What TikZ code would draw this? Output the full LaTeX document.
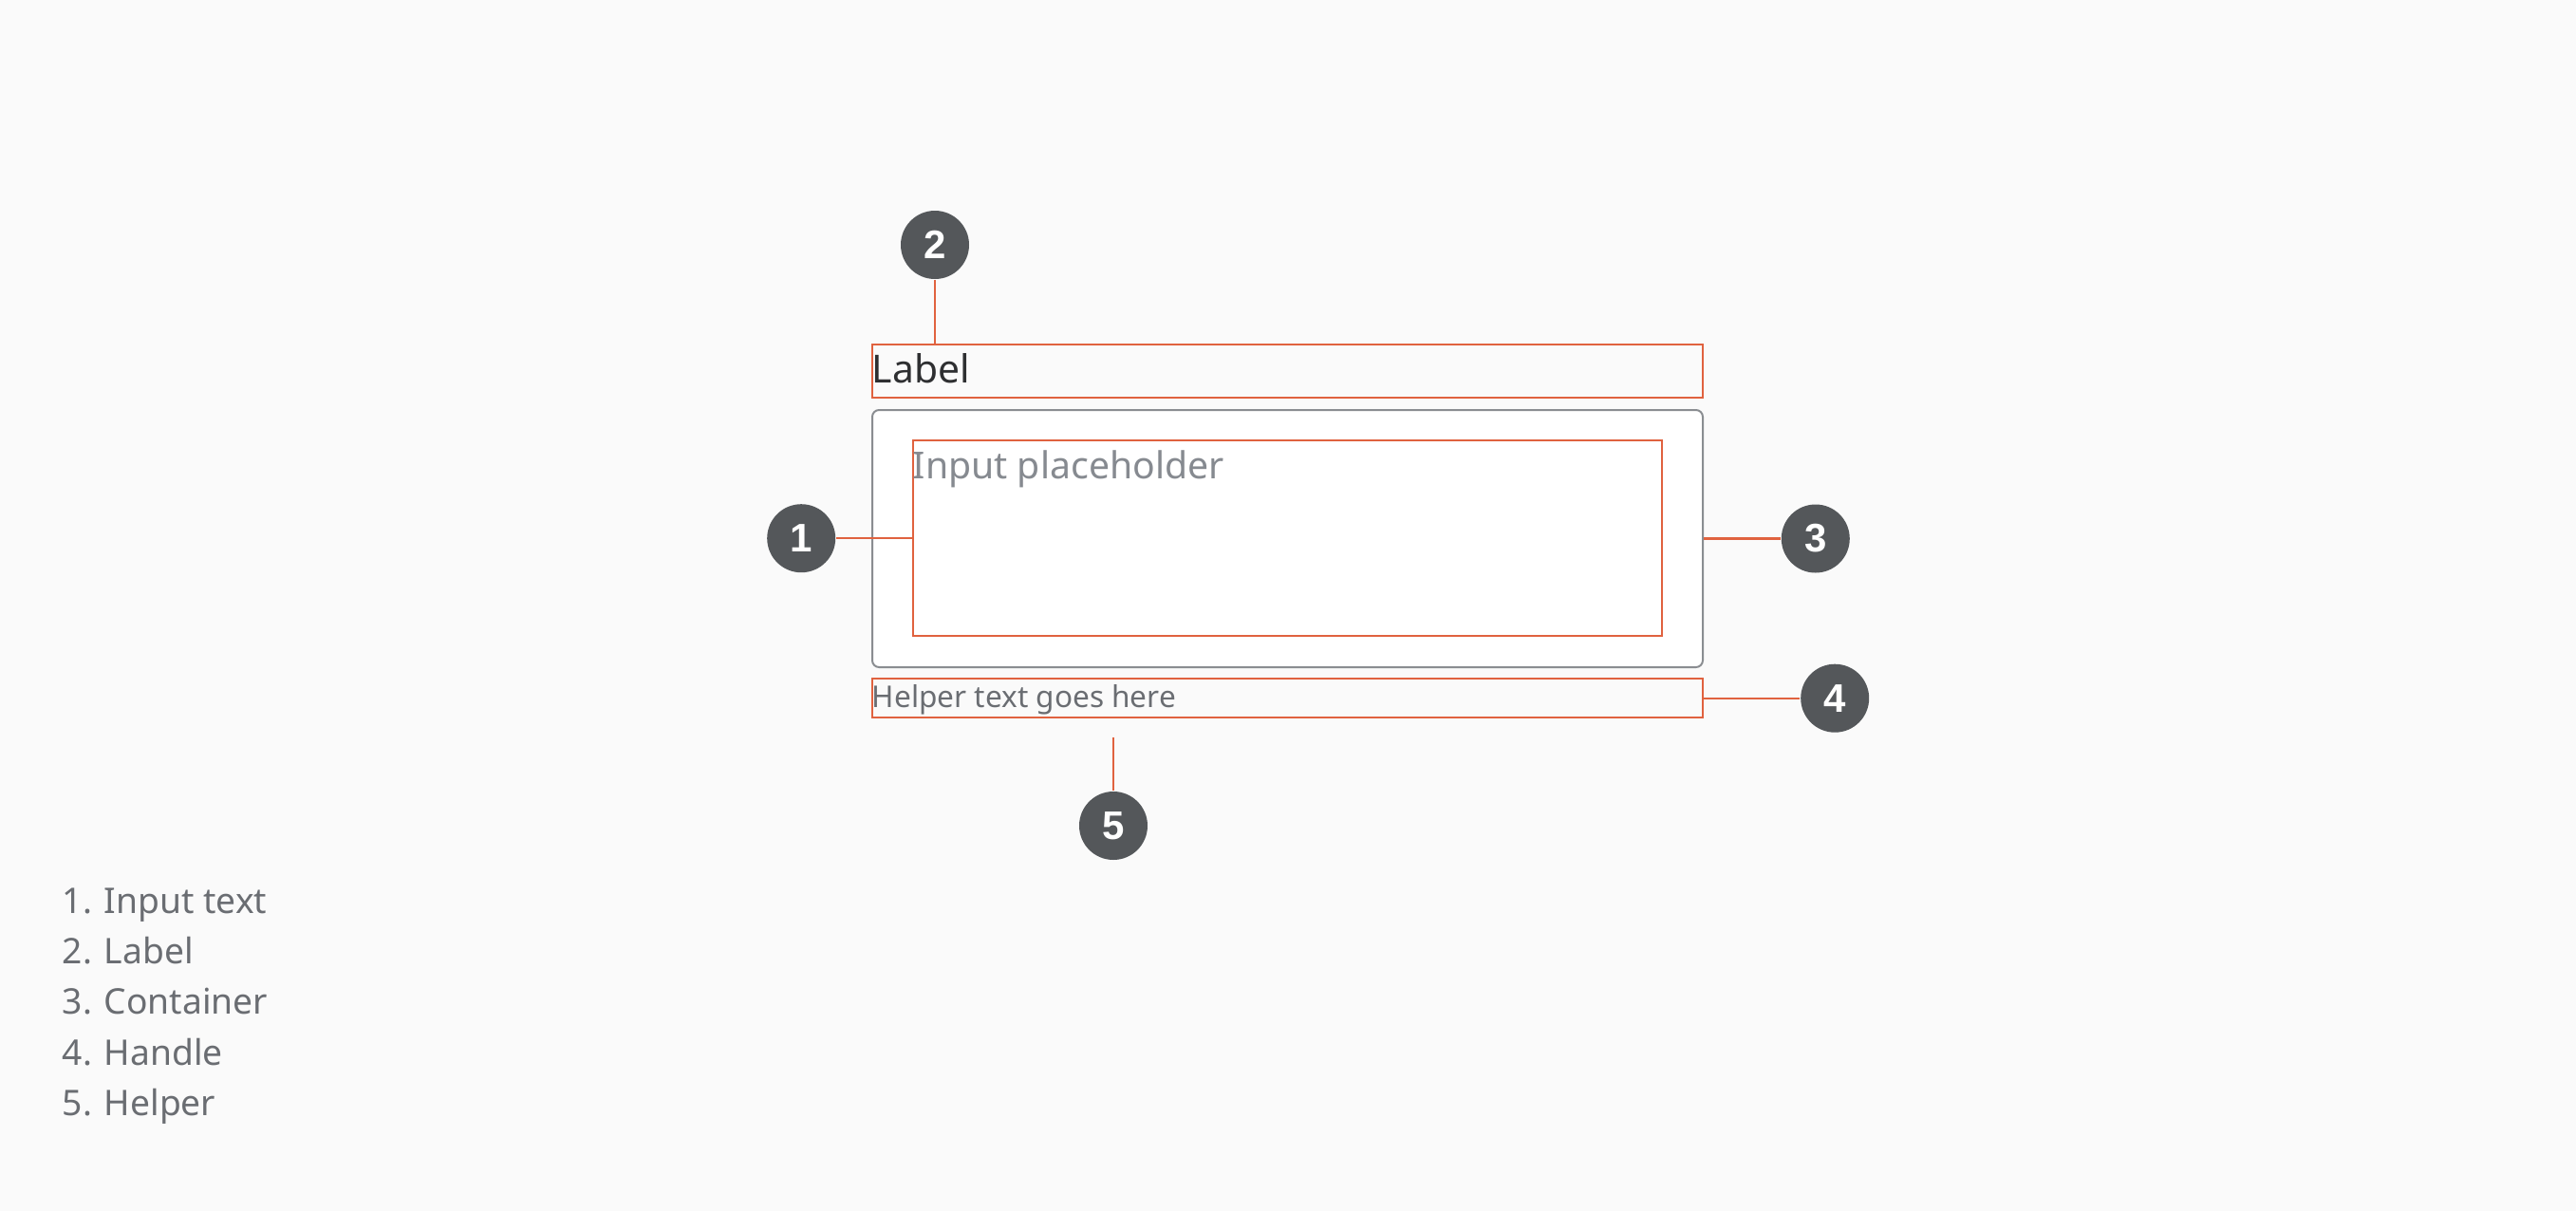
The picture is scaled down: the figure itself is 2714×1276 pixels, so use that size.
\documentclass[tikz,border=0pt]{standalone}
\usepackage{fontspec}
\setmainfont{Noto Sans}
\newfontfamily\pinfont{Liberation Sans}
\usetikzlibrary{positioning}

\definecolor{bgcol}{HTML}{FAFAFA}
\definecolor{marker}{HTML}{E0623F}
\definecolor{bubble}{HTML}{54575A}
\definecolor{frame}{HTML}{8A8D91}
\definecolor{labeltext}{HTML}{2E2F31}
\definecolor{hinttext}{HTML}{868A90}
\definecolor{listtext}{HTML}{6A6D72}

\begin{document}
\begin{tikzpicture}[x=0.25pt, y=-0.25pt,
    redbox/.style={draw=marker, line width=0.6pt, inner sep=0pt, anchor=north west},
    pin/.style={circle, fill=bubble, text=white, minimum size=18pt, inner sep=0pt,
                font=\pinfont\bfseries\fontsize{10.5}{12}\selectfont},
    lead/.style={draw=marker, line width=0.55pt},
    legend/.style={anchor=base west, inner sep=0pt, text=listtext,
                   font=\fontsize{9.3}{11}\selectfont}]
    % Hintergrund
    \fill[bgcol] (0,0) rectangle (2714,1276);
    \useasboundingbox (0,0) rectangle (2714,1276);

    % Felder
    \node[redbox, minimum width=218.75pt, minimum height=14pt] (lbl) at (918,362) {};
    \node[draw=frame, fill=white, line width=0.5pt, rounded corners=1.8pt,
          inner sep=0pt, anchor=north west,
          minimum width=218.75pt, minimum height=67.75pt] (cont) at (918,431) {};
    \node[redbox, minimum width=197.25pt, minimum height=51.5pt] (inp) at (961,463) {};
    \node[redbox, minimum width=218.75pt, minimum height=10.25pt] (help) at (918,714) {};

    % Texte
    \node[anchor=base west, inner sep=0pt, text=labeltext,
          font=\fontsize{10.2}{12}\selectfont] (lbl_text) at (918,403) {Label};
    \node[anchor=base west, inner sep=0pt, text=hinttext,
          font=\fontsize{9.8}{12}\selectfont] (inp_text) at (961,504) {Input placeholder};
    \node[anchor=base west, inner sep=0pt, text=listtext,
          font=\fontsize{7.9}{10}\selectfont] (help_text) at (918,745) {Helper text goes here};

    % Markierungen
    \node[pin, left=20pt of inp.west] (p1) {1};
    \node[pin] (p2) at (985,258) {2};
    \node[pin, right=20.25pt of cont.east] (p3) {3};
    \node[pin, right=25.25pt of help.east] (p4) {4};
    \node[pin] (p5) at (1173,870) {5};
    \coordinate (p5_end) at (1173,777);

    \draw[lead] (p1) -- (inp.west);
    \draw[lead] (p2) -- (p2 |- lbl.north);
    \draw[lead] (cont.east) -- (p3);
    \draw[lead] (help.east) -- (p4);
    \draw[lead] (p5) -- (p5_end);

    % Legende
    \node[legend] (l1) at (65,962) {1. Input text};
    \node[legend] (l2) at (65,1015) {2. Label};
    \node[legend] (l3) at (65,1068) {3. Container};
    \node[legend] (l4) at (65,1122) {4. Handle};
    \node[legend] (l5) at (65,1175) {5. Helper};

\end{tikzpicture}
\end{document}
